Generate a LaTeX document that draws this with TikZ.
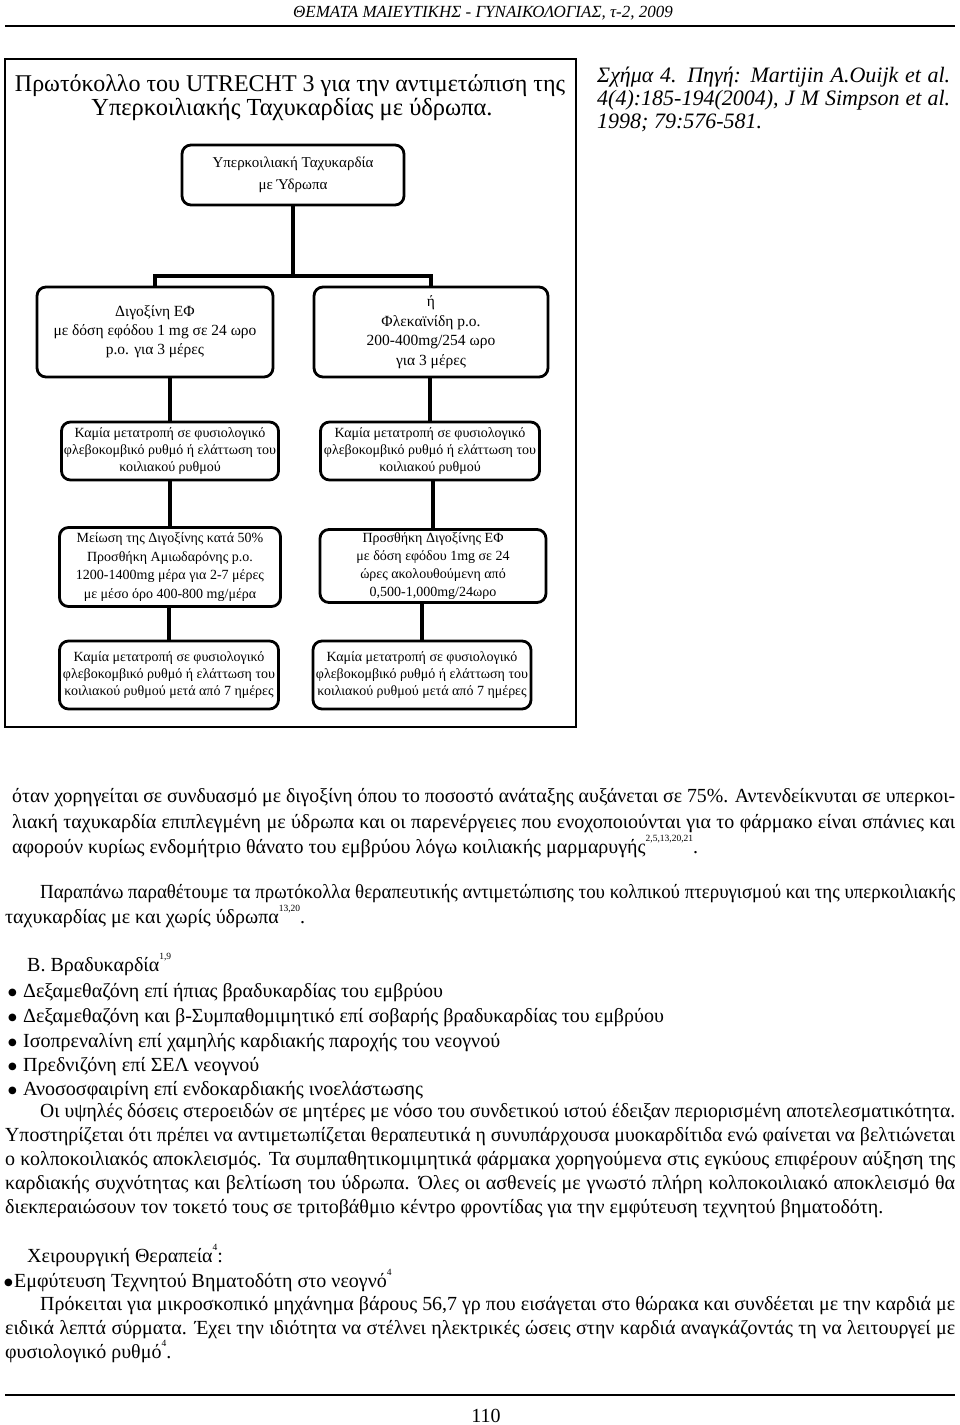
\documentclass[tikz,border=0pt]{standalone}
\usepackage{graphicx}
\usepackage{fontspec}
\setmainfont{Liberation Serif}
\newfontfamily\dotfont{DejaVu Sans}
\newcommand{\supr}[1]{\raisebox{0.6em}{\fontsize{9.5}{9.5}\selectfont #1}}
\newcommand{\bul}{\makebox[15pt][l]{\raisebox{1.8pt}{\dotfont\fontsize{10}{10}\selectfont ●}}}
\newsavebox\jbox
\newcommand{\jline}[2]{\sbox\jbox{#2}\ifdim\wd\jbox>#1\relax\resizebox{#1}{\height}{\usebox\jbox}\else\makebox[#1][s]{#2}\fi}
\begin{document}
\begin{tikzpicture}[x=1pt,y=-1pt,
  fbox/.style={draw, line width=2.8pt, rounded corners=9pt, align=center, inner xsep=0pt, inner ysep=0pt},
  conn/.style={line width=3.2pt},
  body/.style={anchor=base west, inner sep=0pt, font=\fontsize{20}{22}\selectfont},
  captext/.style={anchor=base west, inner sep=0pt, font=\fontsize{22}{24}\itshape},
  small/.style={font=\fontsize{14}{17.3}\selectfont}]
\path[use as bounding box, fill=white] (0,0) rectangle (960,1425);
% header
\node[anchor=base, inner sep=0pt, font=\fontsize{17}{18}\itshape] (hdr) at (483,17) {ΘΕΜΑΤΑ ΜΑΙΕΥΤΙΚΗΣ - ΓΥΝΑΙΚΟΛΟΓΙΑΣ, τ-2, 2009};
\coordinate (hl) at (5,26); \coordinate (hr) at (955,26);
\draw[line width=1.6pt] (hl) -- (hr);
% outer frame
\coordinate (fa) at (5,59); \coordinate (fb) at (576,727);
\draw[line width=2.6pt] (fa) rectangle (fb);
% title
\node[anchor=base, inner sep=0pt, font=\fontsize{24}{26}\selectfont] (t1) at (290,91) {Πρωτόκολλο του UTRECHT 3 για την αντιμετώπιση της};
\node[anchor=base, inner sep=0pt, font=\fontsize{24.5}{26}\selectfont] (t2) at (292,115) {Υπερκοιλιακής Ταχυκαρδίας με ύδρωπα.};
% caption right
\node[captext] (c1) at (597,82) {\jline{353pt}{Σχήμα 4. Πηγή: Martijin A.Ouijk et al.}};
\node[captext] (c2) at (597,105) {\jline{353pt}{4(4):185-194(2004), J M Simpson et al.}};
\node[captext] (c3) at (597,128) {1998; 79:576-581.};
% flow boxes
\node[fbox, minimum width=222pt, minimum height=60pt, font=\fontsize{15}{22}\selectfont] (top) at (293,175) {Υπερκοιλιακή Ταχυκαρδία\\με Ύδρωπα};
\node[fbox, minimum width=236pt, minimum height=90pt, font=\fontsize{15.5}{19}\selectfont] (r2l) at (155,332) {Διγοξίνη ΕΦ\\με δόση εφόδου 1 mg σε 24 ωρο\\p.o. για 3 μέρες};
\node[fbox, minimum width=234pt, minimum height=90pt, font=\fontsize{15.5}{19.5}\selectfont] (r2r) at (431,332) {ή\\Φλεκαϊνίδη p.o.\\200-400mg/254 ωρο\\για 3 μέρες};
\node[fbox, small, minimum width=217pt, minimum height=58pt] (r3l) at (170,451) {Καμία μετατροπή σε φυσιολογικό\\φλεβοκομβικό ρυθμό ή ελάττωση του\\κοιλιακού ρυθμού};
\node[fbox, small, minimum width=219pt, minimum height=58pt] (r3r) at (430,451) {Καμία μετατροπή σε φυσιολογικό\\φλεβοκομβικό ρυθμό ή ελάττωση του\\κοιλιακού ρυθμού};
\node[fbox, minimum width=221pt, minimum height=79pt, font=\fontsize{14}{18.5}\selectfont] (r4l) at (170,567) {Μείωση της Διγοξίνης κατά 50\%\\Προσθήκη Αμιωδαρόνης p.o.\\1200-1400mg μέρα για 2-7 μέρες\\με μέσο όρο 400-800 mg/μέρα};
\node[fbox, minimum width=226pt, minimum height=73pt, font=\fontsize{14}{18}\selectfont] (r4r) at (433,566) {Προσθήκη Διγοξίνης ΕΦ\\με δόση εφόδου 1mg σε 24\\ώρες ακολουθούμενη από\\0,500-1,000mg/24ωρο};
\node[fbox, small, minimum width=219pt, minimum height=68pt] (r5l) at (169,675) {Καμία μετατροπή σε φυσιολογικό\\φλεβοκομβικό ρυθμό ή ελάττωση του\\κοιλιακού ρυθμού μετά από 7 ημέρες};
\node[fbox, small, minimum width=218pt, minimum height=68pt] (r5r) at (422,675) {Καμία μετατροπή σε φυσιολογικό\\φλεβοκομβικό ρυθμό ή ελάττωση του\\κοιλιακού ρυθμού μετά από 7 ημέρες};
% connectors
\coordinate (split) at (293,276);
\draw[conn] (top.south) -- (split);
\draw[conn] (r2l.north) |- (split) -| (r2r.north);
\draw[conn] (r3l.north |- r2l.south) -- (r3l.north);
\draw[conn] (r3r.north |- r2r.south) -- (r3r.north);
\draw[conn] (r4l.north |- r3l.south) -- (r4l.north);
\draw[conn] (r4r.north |- r3r.south) -- (r4r.north);
\draw[conn] (r5l.north |- r4l.south) -- (r5l.north);
\draw[conn] (r5r.north |- r4r.south) -- (r5r.north);
% body text
\node[body] (p1a) at (12,802) {\jline{943pt}{όταν χορηγείται σε συνδυασμό με διγοξίνη όπου το ποσοστό ανάταξης αυξάνεται σε 75\%. Αντενδείκνυται σε υπερκοι-}};
\node[body] (p1b) at (12,828) {\jline{943pt}{λιακή ταχυκαρδία επιπλεγμένη με ύδρωπα και οι παρενέργειες που ενοχοποιούνται για το φάρμακο είναι σπάνιες και}};
\node[body] (p1c) at (12,853) {αφορούν κυρίως ενδομήτριο θάνατο του εμβρύου λόγω κοιλιακής μαρμαρυγής\supr{2,5,13,20,21}.};
\node[body] (p2a) at (40,898) {\jline{915pt}{Παραπάνω παραθέτουμε τα πρωτόκολλα θεραπευτικής αντιμετώπισης του κολπικού πτερυγισμού και της υπερκοιλιακής}};
\node[body] (p2b) at (5,923) {ταχυκαρδίας με και χωρίς ύδρωπα\supr{13,20}.};
\node[body] (bh) at (27,971) {Β. Βραδυκαρδία\supr{1,9}};
\node[body] (l1) at (8,997) {\bul Δεξαμεθαζόνη επί ήπιας βραδυκαρδίας του εμβρύου};
\node[body] (l2) at (8,1022) {\bul Δεξαμεθαζόνη και β-Συμπαθομιμητικό επί σοβαρής βραδυκαρδίας του εμβρύου};
\node[body] (l3) at (8,1047) {\bul Ισοπρεναλίνη επί χαμηλής καρδιακής παροχής του νεογνού};
\node[body] (l4) at (8,1071) {\bul Πρεδνιζόνη επί ΣΕΛ νεογνού};
\node[body] (l5) at (8,1095) {\bul Ανοσοσφαιρίνη επί ενδοκαρδιακής ινοελάστωσης};
\node[body] (p3a) at (40,1117) {\jline{915pt}{Οι υψηλές δόσεις στεροειδών σε μητέρες με νόσο του συνδετικού ιστού έδειξαν περιορισμένη αποτελεσματικότητα.}};
\node[body] (p3b) at (5,1141) {\jline{950pt}{Υποστηρίζεται ότι πρέπει να αντιμετωπίζεται θεραπευτικά η συνυπάρχουσα μυοκαρδίτιδα ενώ φαίνεται να βελτιώνεται}};
\node[body] (p3c) at (5,1165) {\jline{950pt}{ο κολποκοιλιακός αποκλεισμός. Τα συμπαθητικομιμητικά φάρμακα χορηγούμενα στις εγκύους επιφέρουν αύξηση της}};
\node[body] (p3d) at (5,1189) {\jline{950pt}{καρδιακής συχνότητας και βελτίωση του ύδρωπα. Όλες οι ασθενείς με γνωστό πλήρη κολποκοιλιακό αποκλεισμό θα}};
\node[body] (p3e) at (5,1213) {διεκπεραιώσουν τον τοκετό τους σε τριτοβάθμιο κέντρο φροντίδας για την εμφύτευση τεχνητού βηματοδότη.};
\node[body] (sh) at (27,1262) {Χειρουργική Θεραπεία\supr{4}:};
\node[body] (l6) at (4,1287) {\makebox[10pt][l]{\raisebox{1.8pt}{\dotfont\fontsize{10}{10}\selectfont ●}}Εμφύτευση Τεχνητού Βηματοδότη στο νεογνό\supr{4}};
\node[body] (p4a) at (40,1310) {\jline{915pt}{Πρόκειται για μικροσκοπικό μηχάνημα βάρους 56,7 γρ που εισάγεται στο θώρακα και συνδέεται με την καρδιά με}};
\node[body] (p4b) at (5,1334) {\jline{950pt}{ειδικά λεπτά σύρματα. Έχει την ιδιότητα να στέλνει ηλεκτρικές ώσεις στην καρδιά αναγκάζοντάς τη να λειτουργεί με}};
\node[body] (p4c) at (5,1358) {φυσιολογικό ρυθμό\supr{4}.};
% footer
\coordinate (fl) at (5,1395); \coordinate (fr) at (955,1395);
\draw[line width=1.6pt] (fl) -- (fr);
\node[anchor=base, inner sep=0pt, font=\fontsize{20}{20}\selectfont] (pg) at (486,1422) {110};
\end{tikzpicture}
\end{document}
